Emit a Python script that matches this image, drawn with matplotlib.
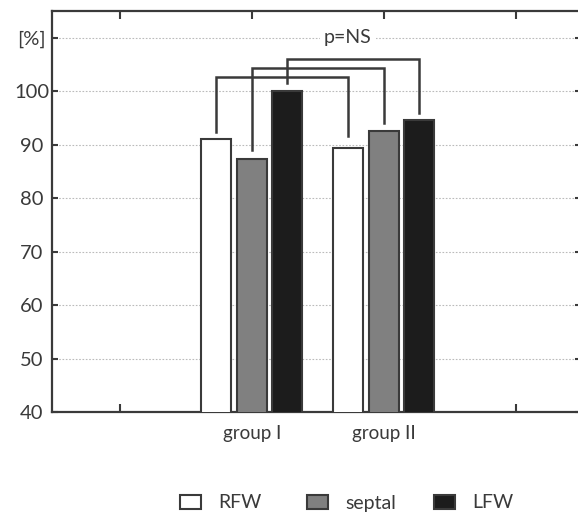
import matplotlib.pyplot as plt
import numpy as np
from matplotlib.patches import Patch

plt.rcParams['font.family'] = ['Lato', 'DejaVu Sans']

groups = ['group I', 'group II']
series = ['RFW', 'septal', 'LFW']
rfw = [91.0, 89.3]
septal = [87.4, 92.6]
lfw = [100.0, 94.6]
# bracket top heights per series (group I vs group II)
bracket_top = [102.6, 104.3, 106.1]
bracket_gap = [[1.4, 2.3], [1.6, 1.4], [1.6, 1.4]]
yticks = [40, 50, 60, 70, 80, 90, 100, 110]
ytick_labels = ['40', '50', '60', '70', '80', '90', '100', '[%]']

fills = ['white', '#808080', '#1c1c1c']
edge = '#3a3a3a'
txt = '#3a3a3a'

fig = plt.figure(figsize=(5.78, 5.14), dpi=100)
# right spine sits just outside the canvas, only its ticks show
ax = fig.add_axes([52 / 578, 1 - 412 / 514, 529 / 578, 401 / 514])

x = np.array([1, 2])
offs = [-0.27, 0.0, 0.265]
width = 0.228
vals = [rfw, septal, lfw]
for i in range(3):
    ax.bar(x + offs[i], vals[i], width, color=fills[i], edgecolor=edge,
           linewidth=1.5, zorder=3)

# brackets comparing group I vs group II for each wall
for i in range(3):
    x1 = x[0] + offs[i]
    x2 = x[1] + offs[i]
    y1 = vals[i][0] + bracket_gap[i][0]
    y2 = vals[i][1] + bracket_gap[i][1]
    top = bracket_top[i]
    ax.plot([x1, x1, x2, x2], [y1, top, top, y2], color=edge, lw=1.8,
            solid_joinstyle='miter', zorder=4, clip_on=False)

ax.text(1.727, 110, 'p=NS', ha='center', va='center', fontsize=14,
        color=txt, zorder=5,
        bbox=dict(facecolor='white', edgecolor='none', pad=3))

ax.set_xlim(-0.515, 3.492)
ax.set_ylim(40, 115)

ax.set_yticks(yticks)
ax.set_yticklabels(ytick_labels)
for lab in ax.get_yticklabels():
    lab.set_horizontalalignment('center')
ax.set_xticks([0, 1, 2, 3])
ax.set_xticklabels(['', groups[0], groups[1], ''])

ax.tick_params(axis='y', direction='in', length=4, width=1.5, color=edge,
               left=True, right=True, labelsize=14.5, labelcolor=txt, pad=14.5)
ax.tick_params(axis='x', direction='in', length=6, width=1.5, color=edge,
               top=True, bottom=True, labelsize=13.5, labelcolor=txt, pad=9)

ax.grid(axis='y', color='#bbbbbb', linestyle=(0, (1.5, 1.5)), linewidth=0.8,
        zorder=0)
ax.set_axisbelow(True)

for s in ['left', 'top', 'bottom', 'right']:
    ax.spines[s].set_color(edge)
    ax.spines[s].set_linewidth(1.6)

leg_x = [180, 307, 434]
for i in range(3):
    h = Patch(facecolor=fills[i], edgecolor=edge, linewidth=1.5)
    fig.legend(handles=[h], labels=[series[i]], loc='center left',
               bbox_to_anchor=(leg_x[i] / 578, 1 - 503 / 514), frameon=False,
               fontsize=14, handlelength=1.1, handleheight=0.7,
               handletextpad=0.85, borderpad=0, borderaxespad=0,
               labelcolor=txt)

fig.savefig('out.png', dpi=100)
